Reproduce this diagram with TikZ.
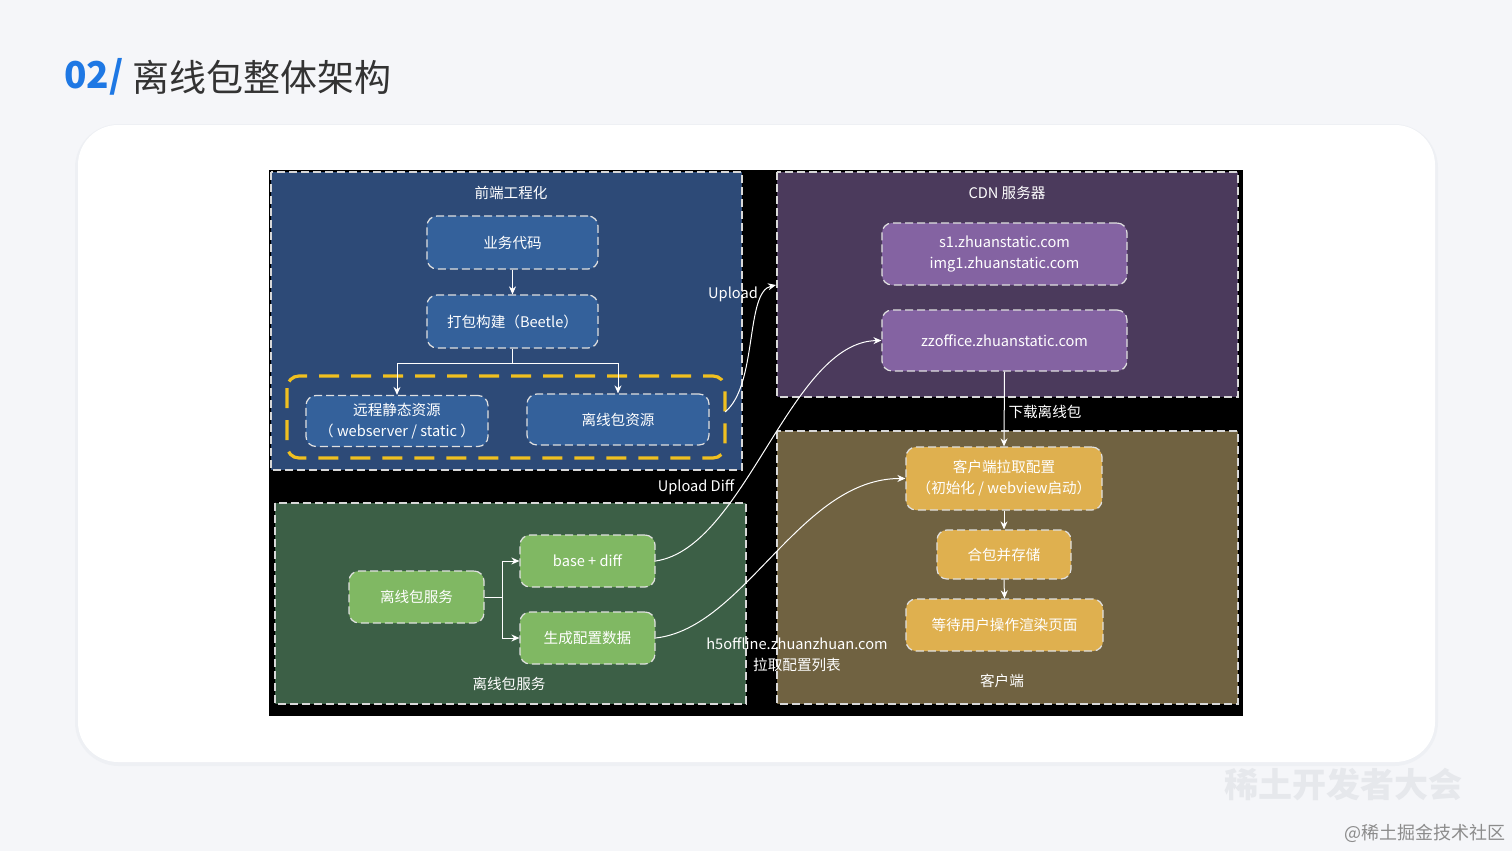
\documentclass[tikz,border=0pt]{standalone}
\usepackage{fontspec}
\setmainfont{Noto Sans CJK SC}
\usetikzlibrary{arrows.meta}
\definecolor{pagebg}{HTML}{F5F6F9}
\definecolor{shadowc}{HTML}{EEF0F4}
\definecolor{titleblue}{HTML}{1E78E4}
\definecolor{titlegray}{HTML}{333333}
\definecolor{blueblk}{HTML}{2D4A77}
\definecolor{bluebox}{HTML}{34619B}
\definecolor{purpleblk}{HTML}{4B3A5C}
\definecolor{purplebox}{HTML}{8463A2}
\definecolor{greenblk}{HTML}{3C5F46}
\definecolor{greenbox}{HTML}{80B863}
\definecolor{oliveblk}{HTML}{706241}
\definecolor{olivebox}{HTML}{DFB04F}
\definecolor{yframe}{HTML}{F0C020}
\definecolor{dashgray}{HTML}{D8D8D8}
\definecolor{wmark}{HTML}{E6E8EC}
\definecolor{wtext}{HTML}{8C8C8C}
\newcommand\bxfont{\fontsize{7.3}{10.5}\selectfont}
\tikzset{
  blk/.style={draw=dashgray, dash pattern=on 4pt off 2pt, line width=0.6pt},
  box/.style={draw=white!88!black, rounded corners=5pt, dash pattern=on 4pt off 2pt,
    line width=0.6pt, text=white, align=center, font=\bxfont, inner sep=0pt},
  sz/.style 2 args={minimum width=#1*0.5pt, minimum height=#2*0.5pt},
  lbl/.style={text=white, font=\bxfont, inner sep=0pt},
  conn/.style={draw=white, line width=0.5pt, -{Stealth[length=4pt,width=3.5pt]}},
}
\begin{document}
\begin{tikzpicture}[x=0.5pt,y=-0.5pt]
\useasboundingbox (0,0) rectangle (1512,851);
\fill[pagebg] (0,0) rectangle (1512,851);
\fill[shadowc, rounded corners=22pt] (75,124) rectangle (1438,766);
\fill[white, rounded corners=20pt] (78,125) rectangle (1435,762);

% title
\node[anchor=west, inner sep=0pt, text=titleblue, font=\fontsize{18.5}{20}\selectfont\bfseries] (tnum) at (64,77) {02/};
\node[anchor=west, inner sep=0pt, text=titlegray, font=\fontsize{18.5}{20}\selectfont] (ttext) at (132,77) {离线包整体架构};

% black background
\fill[black] (269,170) rectangle (1243,716);

% blocks
\filldraw[blk, fill=blueblk] (271,172) rectangle (742,470);
\filldraw[blk, fill=purpleblk] (777,172) rectangle (1238,397);
\filldraw[blk, fill=greenblk] (275,503) rectangle (746,704);
\filldraw[blk, fill=oliveblk] (777,431) rectangle (1238,704);

\node[lbl] (t1) at (511,193) {前端工程化};
\node[lbl] (t2) at (1007,193) {CDN 服务器};
\node[lbl] (t3) at (509,684) {离线包服务};
\node[lbl] (t4) at (1002,681) {客户端};

% yellow frame
\draw[draw=yframe, line width=1.6pt, dash pattern=on 10pt off 6pt, rounded corners=6pt] (287,376) rectangle (725,458);
\coordinate (yf) at (725,412);

% frontend boxes
\node[box, fill=bluebox, sz={171}{53}] (biz) at (512.5,242.5) {业务代码};
\node[box, fill=bluebox, sz={171}{53}] (build) at (512.5,321.5) {打包构建（Beetle）};
\node[box, fill=bluebox, sz={182}{51}] (remote) at (397,421) {远程静态资源\\（ webserver / static ）};
\node[box, fill=bluebox, sz={182}{51}] (offres) at (618,419.5) {离线包资源};

\draw[conn] (biz.south) -- (build.north);
\draw[conn] (build.south) -- ++(0,15) -| (remote.north);
\draw[conn] (build.south) -- ++(0,15) -| (offres.north);

% CDN boxes
\node[box, fill=purplebox, sz={245}{62}] (cdn1) at (1004.5,254) {s1.zhuanstatic.com\\img1.zhuanstatic.com};
\node[box, fill=purplebox, sz={245}{61}] (zz) at (1004.5,340.5) {zzoffice.zhuanstatic.com};

% client boxes
\node[box, fill=olivebox, sz={196}{63}] (pull) at (1004,478.5) {客户端拉取配置\\（初始化 / webview启动）};
\node[box, fill=olivebox, sz={134}{49}] (merge) at (1004,554.5) {合包并存储};
\node[box, fill=olivebox, sz={197}{52}] (wait) at (1004.5,625) {等待用户操作渲染页面};

\draw[conn] (zz.south) -- (pull.north);
\draw[conn] (pull.south) -- (merge.north);
\draw[conn] (merge.south) -- (wait.north);
\node[lbl] (dl) at (1045,412) {下载离线包};

% service boxes
\node[box, fill=greenbox, sz={135}{52}] (svc) at (416.5,597) {离线包服务};
\node[box, fill=greenbox, sz={135}{52}] (base) at (587.5,561) {base + diff};
\node[box, fill=greenbox, sz={135}{52}] (gen) at (587.5,638) {生成配置数据};

\draw[conn] (svc.east) -- ++(18,0) |- (base.west);
\draw[conn] (svc.east) -- ++(18,0) |- (gen.west);

% cross connectors
\coordinate (cdnin) at (776,285);
\draw[conn] (yf) .. controls (758,385) and (745,292) .. (cdnin);
\node[lbl] (up) at (733,294) {Upload};
\draw[conn] (base.east) .. controls (745,548) and (790,342) .. (zz.west);
\node[lbl] (updiff) at (696,487) {Upload Diff};
\draw[conn] (gen.east) .. controls (745,628) and (800,478) .. (pull.west);
\node[lbl, align=center] (h5) at (797,655) {h5offline.zhuanzhuan.com\\拉取配置列表};

% watermark
\node[inner sep=0pt, text=wmark, font=\fontsize{17}{18}\selectfont\bfseries] (wm1) at (1343,785) {稀土开发者大会};
\node[inner sep=0pt, anchor=east, text=wtext, font=\fontsize{9}{10}\selectfont] (wm2) at (1506,833) {@稀土掘金技术社区};
\end{tikzpicture}
\end{document}
